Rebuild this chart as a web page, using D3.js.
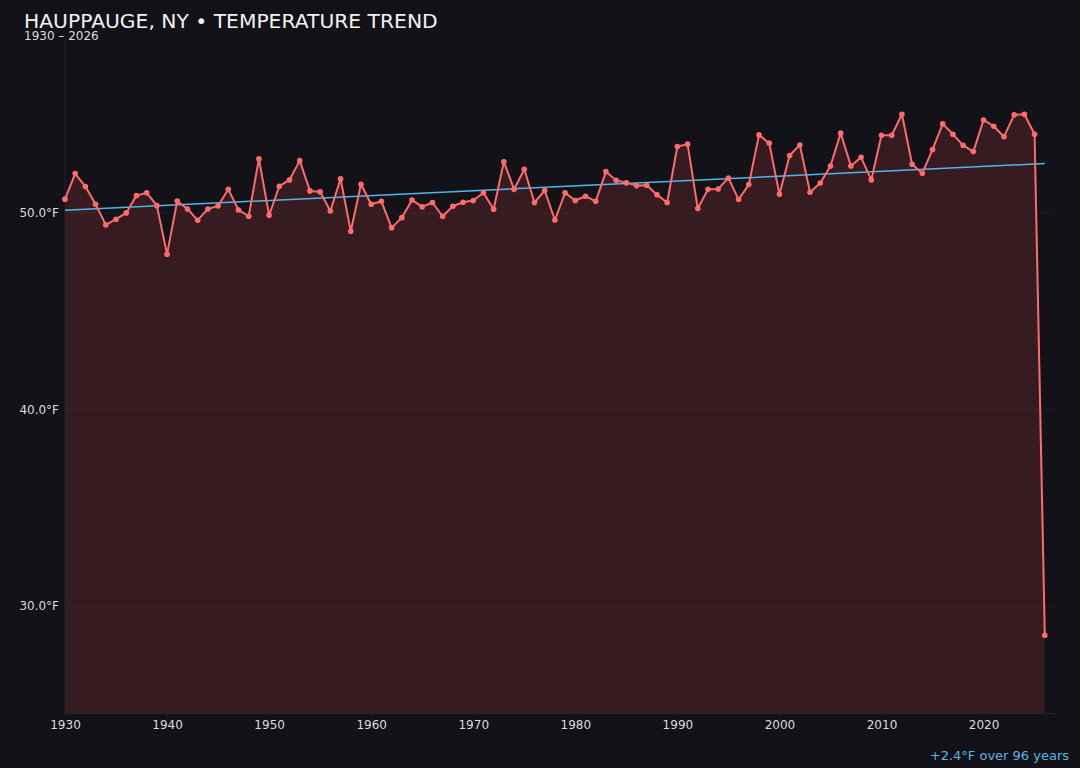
<!DOCTYPE html>
<html>
<head>
<meta charset="utf-8">
<script src="https://cdn.jsdelivr.net/npm/d3@7"></script>
<style>
  html, body { margin: 0; padding: 0; background: #131218; }
  svg { display: block; font-family: "DejaVu Sans", sans-serif; }
</style>
</head>
<body>
<svg id="chart" width="1080" height="768"></svg>
<script>
const title = "HAUPPAUGE, NY \u2022 TEMPERATURE TREND";
const subtitle = "1930 \u2013 2026";
const trendLabel = "+2.4\u00B0F over 96 years";

const years = d3.range(1930, 2027);
const temps = [
  50.70, 52.00, 51.34, 50.44, 49.39, 49.68, 50.00, 50.88, 51.03, 50.37,
  47.90, 50.61, 50.20, 49.63, 50.20, 50.36, 51.20, 50.15, 49.83, 52.75,
  49.88, 51.36, 51.68, 52.66, 51.12, 51.08, 50.10, 51.73, 49.07, 51.46,
  50.44, 50.59, 49.24, 49.76, 50.66, 50.31, 50.53, 49.83, 50.34, 50.54,
  50.63, 51.03, 50.19, 52.60, 51.20, 52.22, 50.53, 51.14, 49.64, 51.02,
  50.63, 50.85, 50.59, 52.10, 51.66, 51.53, 51.39, 51.41, 50.93, 50.53,
  53.38, 53.50, 50.22, 51.20, 51.22, 51.78, 50.68, 51.44, 53.97, 53.55,
  50.95, 52.92, 53.46, 51.05, 51.52, 52.39, 54.06, 52.39, 52.83, 51.68,
  53.95, 53.95, 55.02, 52.48, 52.02, 53.22, 54.53, 54.00, 53.44, 53.12,
  54.73, 54.41, 53.88, 54.99, 55.02, 54.00, 28.51
];
const trendYears = [1930, 2026];
const trendTemps = [50.14, 52.51];
const yTicks = [30, 40, 50];
const xTicks = [1930, 1940, 1950, 1960, 1970, 1980, 1990, 2000, 2010, 2020];

const data = years.map((y, i) => ({ year: y, temp: temps[i] }));
const trend = trendYears.map((y, i) => ({ year: y, temp: trendTemps[i] }));

const svg = d3.select("#chart");
const m = { left: 65, right: 1055, top: 40, bottom: 713 };

const x = d3.scaleLinear().domain([1930, 2027]).range([m.left, m.right]);
const y = d3.scaleLinear().domain([24.55, 58.8]).range([m.bottom, m.top]);

// gridlines
svg.append("g").selectAll("line").data(yTicks).join("line")
  .attr("x1", m.left).attr("x2", m.right)
  .attr("y1", d => y(d)).attr("y2", d => y(d))
  .attr("stroke", "rgba(255,255,255,0.05)").attr("stroke-width", 1);

// area
const area = d3.area().x(d => x(d.year)).y0(m.bottom).y1(d => y(d.temp));
svg.append("path").datum(data).attr("d", area)
  .attr("fill", "#ff5a5a").attr("fill-opacity", 0.15);

// y axis line
svg.append("line").attr("x1", m.left).attr("x2", m.left)
  .attr("y1", m.top).attr("y2", m.bottom)
  .attr("stroke", "#22222a").attr("stroke-width", 1);

// x axis
const xAxis = d3.axisBottom(x).tickValues(xTicks).tickFormat(d3.format("d"))
  .tickSize(3).tickPadding(4.5);
const gx = svg.append("g").attr("transform", `translate(0,${m.bottom})`).call(xAxis);
gx.select(".domain").attr("stroke", "#24242c");
gx.selectAll(".tick line").attr("stroke", "#2a2a32");
gx.selectAll("text").attr("fill", "#dcdcdc").attr("font-size", 12)
  .attr("font-family", "DejaVu Sans, sans-serif");

// y axis labels
const yAxis = d3.axisLeft(y).tickValues(yTicks).tickFormat(d => d3.format(".1f")(d) + "\u00B0F")
  .tickSize(0).tickPadding(6);
const gy = svg.append("g").attr("transform", `translate(${m.left},0)`).call(yAxis);
gy.select(".domain").remove();
gy.selectAll("text").attr("fill", "#dcdcdc").attr("font-size", 12)
  .attr("font-family", "DejaVu Sans, sans-serif");

// trend line
const line = d3.line().x(d => x(d.year)).y(d => y(d.temp));
svg.append("path").datum(trend).attr("d", line)
  .attr("fill", "none").attr("stroke", "#4fb6ec").attr("stroke-width", 1.5);

// data line
svg.append("path").datum(data).attr("d", line)
  .attr("fill", "none").attr("stroke", "#ff6b6b").attr("stroke-width", 2)
  .attr("stroke-linejoin", "round");

svg.append("g").selectAll("circle").data(data).join("circle")
  .attr("cx", d => x(d.year)).attr("cy", d => y(d.temp)).attr("r", 2.8)
  .attr("fill", "#ff6b6b");

// titles
svg.append("text").attr("x", 24).attr("y", 27.5).text(title)
  .attr("fill", "#f2f2f2").attr("font-size", 20.3);
svg.append("text").attr("x", 24).attr("y", 39.5).text(subtitle)
  .attr("fill", "#dcdcdc").attr("font-size", 12);

svg.append("text").attr("x", 1069).attr("y", 760).attr("text-anchor", "end")
  .text(trendLabel).attr("fill", "#5ab4e6").attr("font-size", 13);
</script>
</body>
</html>
